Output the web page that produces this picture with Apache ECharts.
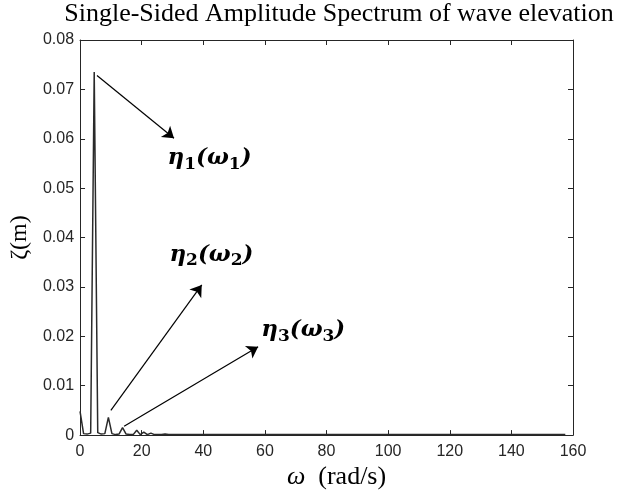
<!DOCTYPE html>
<html>
<head>
<meta charset="utf-8">
<script src="https://cdn.jsdelivr.net/npm/echarts@6/dist/echarts.min.js"></script>
<style>
html,body{margin:0;padding:0;background:#fff;}
#chart{width:620px;height:495px;}
</style>
</head>
<body>
<div id="chart"></div>
<script>
// ---- data ----
const omega = [0, 1.15, 2.3, 3.45, 4.6, 5.75, 6.9, 8.05, 9.2, 10.35, 11.5, 12.65, 13.8, 14.95, 16.1, 17.25, 18.4, 19.55, 20.7, 21.85, 23.0, 24.15, 25.3, 26.45, 27.6, 28.75, 29.9, 40, 60, 80, 100, 120, 140, 157.5];
const zeta  = [0.0048, 0.0003, 0.0002, 0.0004, 0.0735, 0.0005, 0.0002, 0.0003, 0.0036, 0.0003, 0.0001, 0.0002, 0.0015, 0.0002, 0.0001, 0.0001, 0.0010, 0.0001, 0.0006, 0.0001, 0.0004, 0.0001, 0.0001, 0.0001, 0.0002, 0.0001, 0.0001, 0.0001, 0.0001, 0.0001, 0.0001, 0.0001, 0.0001, 0.0001];
const xTicks = [0, 20, 40, 60, 80, 100, 120, 140, 160];
const yTicks = [0, 0.01, 0.02, 0.03, 0.04, 0.05, 0.06, 0.07, 0.08];
// annotation arrows: [start(ω, ζ), end(ω, ζ)]
const arrowStart = [[5.5, 0.0728], [10.0, 0.0050], [14.3, 0.0018]];
const arrowEnd   = [[30.5, 0.0601], [39.5, 0.0304], [57.8, 0.0179]];
// annotation labels (left edge, vertical centre)
const labelPos = [[28.4, 0.0560], [29.0, 0.0365], [58.8, 0.0212]];
const labelIdx = ['1', '2', '3'];

const axisColor = '#262626';
const chart = echarts.init(document.getElementById('chart'), null, {renderer: 'canvas'});

const mathRich = {
  a: {fontFamily: 'DejaVu Serif', fontStyle: 'italic', fontWeight: 'bold', fontSize: 23, color: '#000', lineHeight: 29},
  s: {fontFamily: 'DejaVu Serif', fontWeight: 'bold', fontSize: 17, color: '#000', lineHeight: 17, verticalAlign: 'bottom'}
};

const boxAxis = (pos, showLabel) => ({
  position: pos,
  axisLine: {show: true, onZero: false, lineStyle: {color: axisColor, width: 1}},
  axisTick: {show: true, inside: true, length: 5, lineStyle: {color: axisColor}},
  splitLine: {show: false},
  axisLabel: {show: showLabel}
});

chart.setOption({
  animation: false,
  backgroundColor: '#fff',
  title: {
    text: 'Single-Sided Amplitude Spectrum of wave elevation',
    left: 339, top: 1, padding: 0, textAlign: 'center',
    textStyle: {fontFamily: 'Liberation Serif', fontWeight: 'normal', fontSize: 26, color: '#000'}
  },
  grid: {left: 75, right: 47, top: 40, bottom: 52},
  xAxis: [
    Object.assign(boxAxis('bottom', true), {
      type: 'value', min: xTicks[0], max: xTicks[xTicks.length - 1], interval: 20,
      name: '{w|ω}  (rad/s)', nameLocation: 'middle', nameGap: 27,
      nameTextStyle: {fontFamily: 'Liberation Serif', fontSize: 26, color: '#000', padding: [0, 0, 0, 20],
        rich: {w: {fontFamily: 'Liberation Serif', fontStyle: 'italic', fontSize: 26, color: '#000'}}},
      axisLabel: {show: true, fontFamily: 'Liberation Sans', fontSize: 16, color: axisColor, margin: 8}
    }),
    Object.assign(boxAxis('top', false), {
      type: 'value', min: xTicks[0], max: xTicks[xTicks.length - 1], interval: 20
    })
  ],
  yAxis: [
    Object.assign(boxAxis('left', true), {
      type: 'value', min: yTicks[0], max: yTicks[yTicks.length - 1], interval: 0.01,
      name: 'ζ(m)', nameLocation: 'middle', nameGap: 45, nameRotate: 90,
      nameTextStyle: {fontFamily: 'Liberation Serif', fontSize: 24, color: '#000'},
      axisLabel: {show: true, fontFamily: 'Liberation Sans', fontSize: 16, color: axisColor, margin: 6,
        formatter: v => (v === 0 ? '0' : v.toFixed(2))}
    }),
    Object.assign(boxAxis('right', false), {
      type: 'value', min: yTicks[0], max: yTicks[yTicks.length - 1], interval: 0.01
    })
  ],
  series: [{
    type: 'line',
    xAxisIndex: 0, yAxisIndex: 0,
    data: omega.map((w, i) => [w, zeta[i]]),
    showSymbol: false, symbol: 'none',
    lineStyle: {color: '#2a2a2a', width: 1.5},
    markLine: {
      silent: true, animation: false,
      symbol: ['none', 'arrow'], symbolSize: 11,
      lineStyle: {color: '#000', width: 1.2, type: 'solid'},
      label: {show: false},
      data: arrowStart.map((s, i) => [{coord: s}, {coord: arrowEnd[i]}])
    },
    markPoint: {
      silent: true, animation: false,
      symbol: 'circle', symbolSize: 0,
      label: {show: true, position: 'right', distance: 0, rich: mathRich},
      data: labelPos.map((p, i) => ({
        coord: p,
        label: {formatter: '{a|η}{s|' + labelIdx[i] + '}{a|(ω}{s|' + labelIdx[i] + '}{a|)}'}
      }))
    }
  }]
});
</script>
</body>
</html>
